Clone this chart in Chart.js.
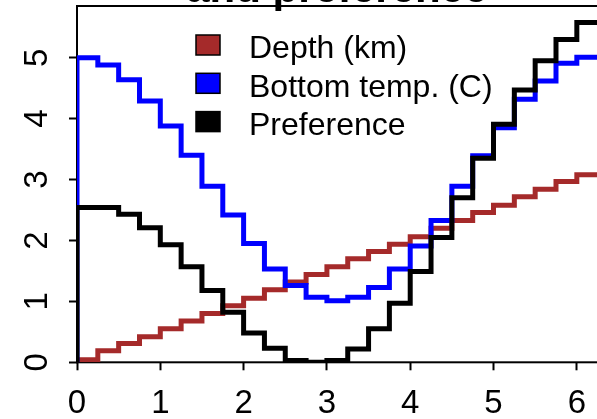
<!DOCTYPE html>
<html>
<head>
<meta charset="utf-8">
<script src="https://cdn.jsdelivr.net/npm/chart.js@4/dist/chart.umd.min.js"></script>
<style>
  html, body { margin: 0; padding: 0; overflow: hidden; background: #fff; }
  #wrap { position: absolute; left: 0; top: 0; }
</style>
</head>
<body>
<div id="wrap"><canvas id="prefChart" width="640" height="419"></canvas></div>
<script>
// Step positions along the x axis (bin edges)
const xVals = [0, 0.25, 0.5, 0.75, 1, 1.25, 1.5, 1.75, 2, 2.25, 2.5, 2.75, 3,
               3.25, 3.5, 3.75, 4, 4.25, 4.5, 4.75, 5, 5.25, 5.5, 5.75, 6, 6.25];

// Series values (first entry is the trace start at zero)
const depth = [0, 0.04, 0.19, 0.31, 0.42, 0.55, 0.68, 0.80, 0.93, 1.05, 1.19, 1.32, 1.44,
               1.57, 1.70, 1.82, 1.94, 2.06, 2.20, 2.33, 2.46, 2.58, 2.72, 2.84, 2.97, 3.08];
const bottomTemp = [0, 5.00, 4.88, 4.64, 4.29, 3.88, 3.40, 2.89, 2.42, 1.95, 1.53, 1.26, 1.07,
                    1.01, 1.07, 1.23, 1.53, 1.91, 2.33, 2.89, 3.39, 3.85, 4.32, 4.62, 4.91, 5.01];
const preference = [0, 2.54, 2.54, 2.43, 2.21, 1.93, 1.57, 1.18, 0.82, 0.48, 0.23, 0.03, 0.00,
                    0.03, 0.22, 0.55, 0.97, 1.49, 2.05, 2.70, 3.35, 3.91, 4.47, 4.95, 5.30, 5.58];

// Tick labels
const xTicks = [0, 1, 2, 3, 4, 5, 6];
const yTicks = [0, 1, 2, 3, 4, 5];

const titleText = 'and preference';
const FONT = "'Liberation Sans', Arial, sans-serif";

Chart.defaults.font.family = FONT;
Chart.defaults.color = '#000';

function toPoints(values) {
    return xVals.map((x, i) => ({ x: x, y: values[i] }));
}

// Plot frame drawn under the lines
const plotBox = {
    id: 'plotBox',
    beforeDatasetsDraw(chart) {
        const { ctx, chartArea: a } = chart;
        ctx.save();
        ctx.strokeStyle = '#000';
        ctx.lineWidth = 2;
        ctx.strokeRect(a.left, a.top, a.right - a.left, a.bottom - a.top);
        ctx.restore();
    }
};

// Main title, sitting above the plot frame
const plotTitle = {
    id: 'plotTitle',
    afterDraw(chart) {
        const { ctx, chartArea: a } = chart;
        ctx.save();
        ctx.font = 'bold 42px ' + FONT;
        ctx.fillStyle = '#000';
        ctx.textAlign = 'center';
        ctx.textBaseline = 'alphabetic';
        ctx.fillText(titleText, (a.left + a.right) / 2 - 2, 1.5);
        ctx.restore();
    }
};

// Filled-box legend without a frame
const boxLegend = {
    id: 'boxLegend',
    afterDraw(chart) {
        const ctx = chart.ctx;
        ctx.save();
        ctx.font = '32px ' + FONT;
        ctx.textBaseline = 'alphabetic';
        ctx.textAlign = 'left';
        chart.data.datasets.forEach((ds, i) => {
            const cy = 45 + i * 38.3;
            ctx.fillStyle = ds.borderColor;
            ctx.fillRect(196, cy - 10, 24, 20);
            ctx.strokeStyle = '#000';
            ctx.lineWidth = 1.5;
            ctx.strokeRect(196, cy - 10, 24, 20);
            ctx.fillStyle = '#000';
            ctx.fillText(ds.label, 249, cy + 13.3);
        });
        ctx.restore();
    }
};

function stepSeries(label, values, color, order) {
    return {
        label: label,
        data: toPoints(values),
        borderColor: color,
        backgroundColor: color,
        borderWidth: 5,
        stepped: 'after',
        pointRadius: 0,
        fill: false,
        clip: 0,
        order: order
    };
}

// Fixed axis sizes so the plot frame lands where it should
function fitX(s) {
    s.height = 56.7;
    s.paddingLeft = 0;
    s.paddingRight = 0;
}
function fitY(s) {
    s.width = 77;
    s.paddingTop = 0;
    s.paddingBottom = 0;
}

const ctx = document.getElementById('prefChart').getContext('2d');
const prefChart = new Chart(ctx, {
    type: 'line',
    data: {
        datasets: [
            stepSeries('Depth (km)', depth, '#A52A2A', 3),
            stepSeries('Bottom temp. (C)', bottomTemp, '#0000FF', 2),
            stepSeries('Preference', preference, '#000000', 1)
        ]
    },
    options: {
        responsive: false,
        maintainAspectRatio: false,
        animation: false,
        devicePixelRatio: 1,
        layout: { padding: { top: 6, right: 39.6, left: 0, bottom: 0 } },
        plugins: {
            legend: { display: false },
            tooltip: { enabled: false },
            title: { display: false }
        },
        scales: {
            x: {
                type: 'linear',
                min: 0,
                max: 6.283,
                afterBuildTicks: s => { s.ticks = xTicks.map(v => ({ value: v })); },
                afterFit: fitX,
                ticks: {
                    font: { size: 33 },
                    color: '#000',
                    padding: 14,
                    maxRotation: 0,
                    autoSkip: false
                },
                grid: {
                    drawOnChartArea: false,
                    drawTicks: true,
                    tickLength: 8,
                    tickWidth: 2,
                    tickColor: '#000'
                },
                border: { display: false }
            },
            y: {
                type: 'linear',
                min: 0,
                max: 5.85,
                afterBuildTicks: s => { s.ticks = yTicks.map(v => ({ value: v })); },
                afterFit: fitY,
                ticks: {
                    font: { size: 33 },
                    color: '#000',
                    padding: 22,
                    minRotation: 90,
                    maxRotation: 90,
                    crossAlign: 'center',
                    autoSkip: false
                },
                grid: {
                    drawOnChartArea: false,
                    drawTicks: true,
                    tickLength: 8,
                    tickWidth: 2,
                    tickColor: '#000'
                },
                border: { display: false }
            }
        }
    },
    plugins: [plotBox, plotTitle, boxLegend]
});
</script>
</body>
</html>
